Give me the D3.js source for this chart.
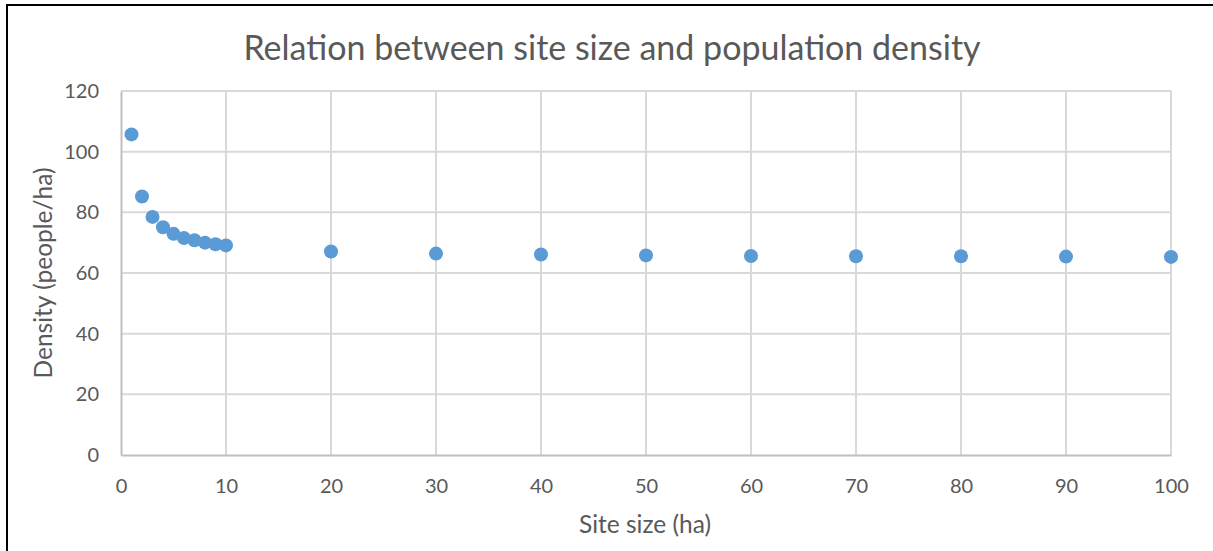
<!DOCTYPE html>
<html>
<head>
<meta charset="utf-8">
<script src="https://cdn.jsdelivr.net/npm/d3@7"></script>
<style>
  body { margin: 0; background: #fff; }
  svg { display: block; font-family: Lato, "Open Sans", sans-serif; }
</style>
</head>
<body>
<svg id="chart"></svg>
<script>
// Data
const siteSizes = [1, 2, 3, 4, 5, 6, 7, 8, 9, 10, 20, 30, 40, 50, 60, 70, 80, 90, 100];
const densities = [105.7, 85.2, 78.5, 75.1, 72.9, 71.5, 70.8, 70.0, 69.5, 69.1, 67.1, 66.4, 66.1, 65.8, 65.6, 65.5, 65.5, 65.4, 65.3];
const xTicks = [0, 10, 20, 30, 40, 50, 60, 70, 80, 90, 100];
const yTicks = [0, 20, 40, 60, 80, 100, 120];

const width = 1213;
const height = 551;
const margin = { top: 91, right: 42, bottom: 96, left: 121 };

const svg = d3.select("#chart")
    .attr("width", width)
    .attr("height", height);

// Frame
svg.append("path")
    .attr("d", `M7,${height} V5 H${width}`)
    .attr("fill", "none")
    .attr("stroke", "#000")
    .attr("stroke-width", 2);

const x = d3.scaleLinear()
    .domain([0, 100])
    .range([margin.left, width - margin.right]);

const y = d3.scaleLinear()
    .domain([0, 120])
    .range([height - margin.bottom, margin.top]);

// Grid
svg.append("g")
    .selectAll("line")
    .data(yTicks.filter(d => d > 0))
    .enter()
    .append("line")
    .attr("x1", x(0))
    .attr("x2", x(100))
    .attr("y1", d => y(d))
    .attr("y2", d => y(d))
    .attr("stroke", "#d9d9d9")
    .attr("stroke-width", 2);

svg.append("g")
    .selectAll("line")
    .data(xTicks.filter(d => d > 0))
    .enter()
    .append("line")
    .attr("x1", d => x(d))
    .attr("x2", d => x(d))
    .attr("y1", y(0))
    .attr("y2", y(120))
    .attr("stroke", "#d9d9d9")
    .attr("stroke-width", 2);

// Axes
const xAxis = svg.append("g")
    .attr("transform", `translate(0,${y(0)})`)
    .call(d3.axisBottom(x).tickValues(xTicks).tickSize(0).tickPadding(24));
xAxis.select(".domain").attr("stroke", "#bfbfbf").attr("stroke-width", 2);

const yAxis = svg.append("g")
    .attr("transform", `translate(${x(0)},0)`)
    .call(d3.axisLeft(y).tickValues(yTicks).tickSize(0).tickPadding(22));
yAxis.select(".domain").attr("stroke", "#bfbfbf").attr("stroke-width", 2);

svg.selectAll(".tick text")
    .attr("fill", "#595959")
    .style("font-family", "Lato, sans-serif")
    .style("font-size", "20px");

// Points
svg.append("g")
    .selectAll("circle")
    .data(siteSizes.map((s, i) => ({ s, d: densities[i] })))
    .enter()
    .append("circle")
    .attr("cx", d => x(d.s))
    .attr("cy", d => y(d.d))
    .attr("r", 7)
    .attr("fill", "#5b9bd5");

// Title
svg.append("text")
    .attr("x", 612)
    .attr("y", 60)
    .attr("text-anchor", "middle")
    .attr("fill", "#595959")
    .style("font-size", "34px")
    .text("Relation between site size and population density");

// Axis titles
svg.append("text")
    .attr("x", 645)
    .attr("y", 533)
    .attr("text-anchor", "middle")
    .attr("fill", "#595959")
    .style("font-size", "24.5px")
    .text("Site size (ha)");

svg.append("text")
    .attr("transform", "rotate(-90)")
    .attr("x", -273)
    .attr("y", 52)
    .attr("text-anchor", "middle")
    .attr("fill", "#595959")
    .style("font-size", "24.5px")
    .text("Density (people/ha)");
</script>
</body>
</html>
